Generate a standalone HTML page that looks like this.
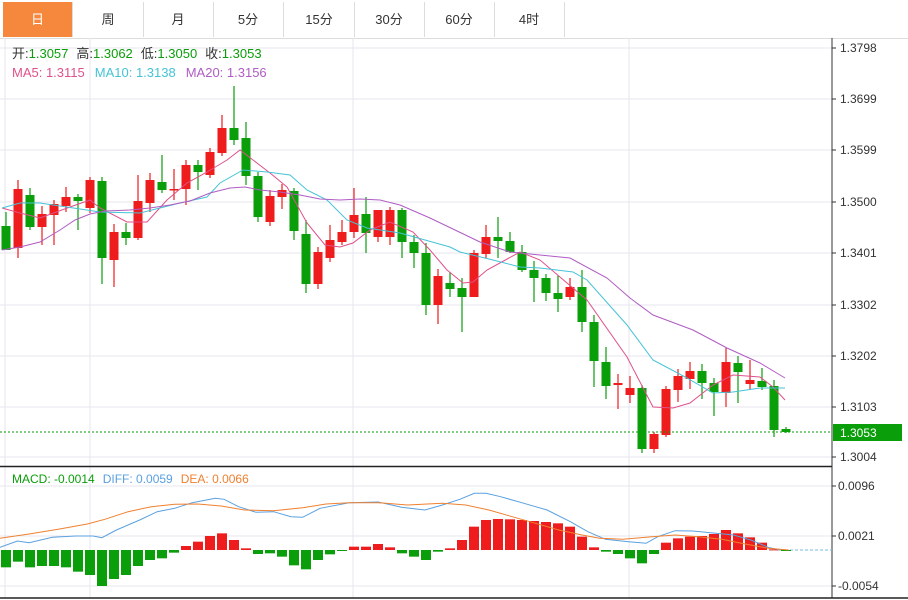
<!DOCTYPE html>
<html><head><meta charset="utf-8"><style>
body{margin:0;width:908px;height:600px;overflow:hidden;background:#fff;font-family:"Liberation Sans","Noto Sans CJK SC",sans-serif}
.tabs{position:absolute;left:0;top:0;width:908px;height:38px;border-bottom:1px solid #ddd}
.tab{position:absolute;top:2px;height:35px;width:70px;line-height:35px;text-align:center;font-size:13px;color:#333;border-right:1px solid #ddd}
.on{background:#f5883c;color:#fff}
svg{position:absolute;left:0;top:0}
</style></head><body>
<div class="tabs">
<div class="tab on" style="left:3px;width:69px">日</div>
<div class="tab" style="left:73px">周</div>
<div class="tab" style="left:143px">月</div>
<div class="tab" style="left:213px">5分</div>
<div class="tab" style="left:284px">15分</div>
<div class="tab" style="left:354px">30分</div>
<div class="tab" style="left:424px">60分</div>
<div class="tab" style="left:494px">4时</div>
</div>
<svg id="s" width="908" height="600" style="top:0" font-family="Liberation Sans, Noto Sans CJK SC, sans-serif"></svg>
<script>
var s=document.getElementById('s'),h='';
function L(x1,y1,x2,y2,c,w,d){h+='<line x1="'+x1+'" y1="'+y1+'" x2="'+x2+'" y2="'+y2+'" stroke="'+c+'" stroke-width="'+(w||1)+'"'+(d?' stroke-dasharray="'+d+'"':'')+'/>';}
function T(x,y,t,c,sz,a){h+='<text x="'+x+'" y="'+y+'" fill="'+c+'" font-size="'+(sz||12)+'"'+(a?' text-anchor="'+a+'"':'')+'>'+t+'</text>';}
function P(pts,c){h+='<polyline fill="none" stroke="'+c+'" stroke-width="1" points="'+pts.map(p=>p[0]+','+p[1]).join(' ')+'"/>';}
[48,99,150,202,253,305,356,407,457].forEach(y=>L(0,y,832,y,'#e6e6ef'));
[486,536,586].forEach(y=>L(0,y,832,y,'#e6e6ef'));
[90,353,629].forEach(x=>{L(x,38,x,466,'#e6e6ef');L(x,466,x,598,'#e6e6ef');});
L(5,38,5,598,'#e6e6ef');
L(832,38,832,598,'#333');
L(0,466.5,832,466.5,'#222',1.5);L(0,598,908,598,'#222',1.5);
var pl=[['1.3798',48],['1.3699',99],['1.3599',150],['1.3500',202],['1.3401',253],['1.3302',305],['1.3202',356],['1.3103',407],['1.3004',457]];
pl.forEach(p=>{L(832,p[1],836,p[1],'#333');T(840,p[1]+4,p[0],'#333',12);});
[['0.0096',486],['0.0021',536],['-0.0054',586]].forEach(p=>{L(832,p[1],836,p[1],'#333');T(838,p[1]+4,p[0],'#333',12);});
var C=[[226,250,212,250],[248,189,180,258],[195,227,188,230],[227,214,206,245],[215,204,200,245],[206,197,187,212],[197,201,194,230],[208,180,177,213],[181,258,177,284],[260,232,224,287],[232,238,223,245],[238,201,175,240],[203,180,173,212],[182,190,155,193],[190,189,169,200],[189,165,160,205],[165,172,160,190],[175,152,148,178],[153,128,115,156],[128,140,86,145],[138,176,122,185],[176,217,172,222],[222,196,190,226],[197,190,184,209],[191,231,188,240],[234,284,220,293],[284,252,247,289],[258,240,225,262],[242,232,220,245],[232,215,188,238],[214,233,197,253],[237,210,210,242],[237,210,207,245],[210,242,208,258],[242,253,235,268],[253,305,243,315],[305,276,269,324],[283,289,272,297],[288,297,278,332],[297,253,250,297],[254,237,225,258],[237,241,217,258],[241,252,232,253],[252,270,245,272],[270,278,261,302],[278,293,274,301],[293,299,275,312],[297,287,278,300],[287,322,270,332],[322,361,315,387],[362,386,347,399],[385,383,374,409],[395,388,376,403],[388,449,385,453],[449,434,432,453],[435,389,386,437],[390,376,369,402],[379,371,362,389],[371,383,364,399],[383,392,378,416],[393,362,348,407],[363,372,356,403],[384,380,360,390],[381,387,368,390],[386,430,380,437],[429,432,427,433]];
C.forEach((c,i)=>{var x=6+12*i,up=c[1]<c[0],col=up?'#ee1c1c':'#0a9e0a';L(x,c[2],x,c[3],col,1.2);var t=Math.min(c[0],c[1]),b=Math.max(c[0],c[1]);h+='<rect x="'+(x-4.5)+'" y="'+t+'" width="9" height="'+Math.max(b-t,1.5)+'" fill="'+col+'"/>';});
P([[2,208],[20,213],[40,218],[70,207],[90,200],[100,208],[127,222],[147,222],[167,200],[187,183],[207,172],[227,160],[240,150],[253,160],[270,173],[287,187],[307,223],[325,245],[340,247],[353,243],[370,230],[390,222],[413,232],[430,250],[447,270],[463,283],[473,282],[487,270],[520,252],[540,260],[567,283],[587,300],[627,357],[653,407],[673,408],[690,403],[713,385],[733,375],[760,377],[773,387],[785,400]],'#e0508a');
P([[2,208],[20,203],[40,203],[80,209],[100,212],[140,213],[180,203],[207,197],[220,183],[243,170],[267,172],[290,175],[307,190],[327,200],[347,220],[367,228],[400,233],[450,247],[460,252],[493,260],[520,267],[540,268],[573,272],[587,280],[627,325],[653,360],[687,378],[713,393],[733,392],[760,388],[785,388]],'#45c3d6');
P([[2,250],[20,247],[40,242],[60,230],[75,220],[90,214],[105,211],[130,210],[150,208],[170,205],[190,201],[210,193],[230,188],[245,187],[260,190],[280,192],[300,195],[320,199],[340,200],[360,199],[380,200],[400,205],[430,218],[455,230],[480,242],[510,252],[540,255],[570,258],[607,278],[630,298],[653,315],[693,330],[727,348],[760,363],[785,378]],'#b05cc4');
L(0,432,832,432,'#0a9e0a',1,'2,2');
h+='<rect x="833" y="424" width="69" height="17" fill="#0a9e0a"/>';T(840,437,'1.3053','#fff',12);
L(770,550,832,550,'#7ab8e0',1,'3,2');
var M=[322,305,322,318,318,322,335,345,378,357,345,318,300,295,278,258,245,228,220,240,265,282,280,290,316,328,300,283,272,260,260,252,262,280,290,300,275,265,240,200,180,177,178,180,183,186,190,200,230,262,275,282,295,310,282,248,235,230,228,222,210,220,232,248,268,271];
M.forEach((v,i)=>{var y=460+v/3,x=6+12*i,col=y<550?'#ee1c1c':'#0a9e0a';var t=Math.min(y,550),b=Math.max(y,550);h+='<rect x="'+(x-5)+'" y="'+t+'" width="10" height="'+Math.max(b-t,1)+'" fill="'+col+'"/>';});
function cv(a){return a.map(p=>[(p[0]/1.718).toFixed(1),(460+p[1]/3).toFixed(1)]);}
P(cv([[0,262],[30,243],[50,248],[90,232],[130,228],[160,228],[175,233],[200,210],[240,180],[270,155],[300,145],[330,128],[370,115],[385,118],[410,140],[440,157],[470,155],[500,170],[520,172],[550,145],[600,128],[650,126],[690,142],[730,150],[760,135],[790,118],[815,100],[835,100],[860,110],[900,130],[940,150],[980,185],[1010,215],[1040,238],[1080,245],[1110,250],[1130,230],[1160,212],[1190,213],[1230,220],[1260,225],[1290,240],[1320,262],[1340,270]]),'#5aa0e0');
P(cv([[0,235],[50,222],[100,208],[150,192],[180,178],[220,155],[260,140],[300,133],[340,132],[380,138],[420,150],[470,152],[520,143],[560,132],[600,128],[650,128],[700,135],[760,130],[800,135],[840,150],[880,170],[920,190],[960,210],[1000,225],[1030,235],[1070,238],[1120,230],[1160,225],[1200,230],[1240,238],[1280,252],[1320,265],[1355,270]]),'#f08030');
h+='<text x="12" y="58" font-size="13"><tspan fill="#333">开:</tspan><tspan fill="#0a9e0a">1.3057</tspan><tspan fill="#333" dx="8">高:</tspan><tspan fill="#0a9e0a">1.3062</tspan><tspan fill="#333" dx="8">低:</tspan><tspan fill="#0a9e0a">1.3050</tspan><tspan fill="#333" dx="8">收:</tspan><tspan fill="#0a9e0a">1.3053</tspan></text>';
h+='<text x="12" y="77" font-size="13"><tspan fill="#e0508a">MA5: 1.3115</tspan><tspan fill="#45c3d6" dx="10">MA10: 1.3138</tspan><tspan fill="#b05cc4" dx="10">MA20: 1.3156</tspan></text>';
h+='<text x="12" y="483" font-size="12"><tspan fill="#0a9e0a">MACD: -0.0014</tspan><tspan fill="#5aa0e0" dx="8">DIFF: 0.0059</tspan><tspan fill="#f08030" dx="8">DEA: 0.0066</tspan></text>';
s.innerHTML=h;
</script>
</body></html>
